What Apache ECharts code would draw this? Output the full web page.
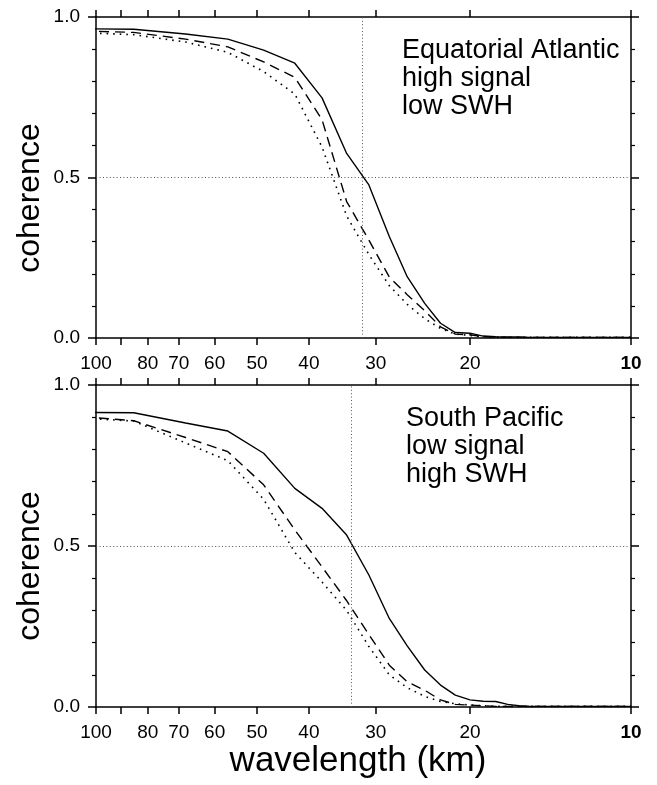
<!DOCTYPE html>
<html><head><meta charset="utf-8">
<script src="https://cdn.jsdelivr.net/npm/echarts@6/dist/echarts.min.js"></script>
<style>html,body{margin:0;padding:0;background:#fff}#c{width:657px;height:785px}</style>
</head><body><div id="c"></div>
<script>
// wavelength (km) of each spectral estimate
const wavelengths = [113.3, 85.0, 68.0, 56.7, 48.6, 42.5, 37.8, 34.0, 30.9, 28.3, 26.2, 24.3, 22.7, 21.3, 20.0, 18.9,
  17.9, 17.0, 16.2, 15.5, 14.8, 14.2, 13.6, 13.1, 12.6, 12.1, 11.7, 11.3, 11.0, 10.6, 10.3, 10.0];
const tickWavelengths = [100, 90, 80, 70, 60, 50, 40, 30, 20, 10];
const labelWavelengths = [100, 80, 70, 60, 50, 40, 30, 20, 10];

// Equatorial Atlantic
const atlSolid  = [0.964, 0.962, 0.947, 0.931, 0.897, 0.856, 0.748, 0.575, 0.477, 0.316, 0.191, 0.108, 0.046, 0.017, 0.015, 0.006,
  0.004, 0.003, 0.003, 0.002, 0.002, 0.002, 0.002, 0.002, 0.002, 0.002, 0.002, 0.002, 0.002, 0.002, 0.002, 0.002];
const atlDashed = [0.958, 0.952, 0.931, 0.907, 0.860, 0.812, 0.680, 0.425, 0.305, 0.190, 0.135, 0.085, 0.035, 0.012, 0.010, 0.004,
  0.003, 0.002, 0.002, 0.002, 0.002, 0.002, 0.002, 0.002, 0.002, 0.002, 0.002, 0.002, 0.002, 0.002, 0.002, 0.002];
const atlDotted = [0.953, 0.945, 0.922, 0.890, 0.830, 0.760, 0.595, 0.380, 0.260, 0.163, 0.105, 0.060, 0.030, 0.012, 0.008, 0.004,
  0.003, 0.002, 0.002, 0.002, 0.002, 0.002, 0.002, 0.002, 0.002, 0.002, 0.002, 0.002, 0.002, 0.002, 0.002, 0.002];
// South Pacific
const pacSolid  = [0.915, 0.914, 0.882, 0.857, 0.788, 0.679, 0.617, 0.534, 0.410, 0.275, 0.190, 0.115, 0.068, 0.037, 0.022, 0.018,
  0.017, 0.008, 0.004, 0.002, 0.002, 0.002, 0.002, 0.002, 0.002, 0.002, 0.002, 0.002, 0.002, 0.002, 0.002, 0.002];
const pacDashed = [0.905, 0.889, 0.837, 0.793, 0.690, 0.550, 0.435, 0.330, 0.225, 0.130, 0.078, 0.052, 0.022, 0.008, 0.006, 0.004,
  0.002, 0.002, 0.002, 0.002, 0.002, 0.002, 0.002, 0.002, 0.002, 0.002, 0.002, 0.002, 0.002, 0.002, 0.002, 0.002];
const pacDotted = [0.900, 0.888, 0.820, 0.765, 0.645, 0.480, 0.388, 0.300, 0.188, 0.100, 0.060, 0.033, 0.017, 0.010, 0.006, 0.004,
  0.002, 0.002, 0.002, 0.002, 0.002, 0.002, 0.002, 0.002, 0.002, 0.002, 0.002, 0.002, 0.002, 0.002, 0.002, 0.002];

const crossWavelengths = [31.8, 33.3];
const crossCoherence = 0.5;
const panelLines = [["Equatorial Atlantic", "high signal", "low SWH"], ["South Pacific", "low signal", "high SWH"]];
const yTitle = "coherence";
const xTitle = "wavelength (km)";

const FONT = "'Liberation Sans', Arial, Helvetica, sans-serif";
const panels = [
  { top: 17, height: 321, series: [atlSolid, atlDashed, atlDotted], textX: 402 },
  { top: 385, height: 322, series: [pacSolid, pacDashed, pacDotted], textX: 406 }
];

const grid = [], xAxis = [], yAxis = [], series = [], graphic = [];
const tickStyle = { color: '#000', width: 1.5 };
panels.forEach((p, i) => {
  grid.push({ left: 96, top: p.top, width: 535, height: p.height });
  // data axis (log scale, reversed)
  xAxis.push({ type: 'log', logBase: 10, gridIndex: i, min: 10, max: 100, inverse: true, show: false });
  // drawn axes (same mapping expressed in log10 units)
  ['bottom', 'top'].forEach(pos => {
    xAxis.push({
      type: 'value', gridIndex: i, min: 1, max: 2, inverse: true, position: pos,
      axisLine: { show: true, onZero: false, lineStyle: { color: '#000', width: 1.5 } },
      axisTick: { show: true, inside: false, length: 7, customValues: tickWavelengths.map(Math.log10), lineStyle: tickStyle },
      axisLabel: {
        show: pos === 'bottom', customValues: labelWavelengths.map(Math.log10), margin: 16,
        fontFamily: FONT, fontSize: 19, color: '#000',
        formatter: v => { const w = Math.round(Math.pow(10, v)); return w === 10 ? '{b|10}' : String(w); },
        rich: { b: { fontFamily: FONT, fontSize: 19, fontWeight: 'bold', color: '#000' } }
      },
      splitLine: { show: false }
    });
  });
  ['left', 'right'].forEach(pos => {
    yAxis.push({
      type: 'value', gridIndex: i, min: 0, max: 1, interval: 0.5, position: pos,
      axisLine: { show: true, onZero: false, lineStyle: { color: '#000', width: 1.5 } },
      axisTick: { show: true, inside: false, length: 8, lineStyle: tickStyle },
      minorTick: { show: true, splitNumber: 5, length: 4, lineStyle: { color: '#000', width: 1.2 } },
      axisLabel: { show: pos === 'left', margin: 16, fontFamily: FONT, fontSize: 19, color: '#000', formatter: v => v.toFixed(1) },
      splitLine: { show: false }
    });
  });
  const styles = [
    { type: 'solid', width: 1.4 },
    { type: [10, 6], width: 1.4 },
    { type: [1.6, 5], width: 1.6 }
  ];
  p.series.forEach((arr, k) => {
    const s = {
      type: 'line', xAxisIndex: 3 * i, yAxisIndex: 2 * i, symbol: 'none', clip: true,
      data: wavelengths.map((w, j) => [w, arr[j]]),
      lineStyle: Object.assign({ color: '#000' }, styles[k]),
      z: 3
    };
    if (k === 0) {
      s.markLine = {
        silent: true, symbol: 'none', label: { show: false }, animation: false,
        lineStyle: { color: '#555', type: [1, 2.4], width: 1 },
        data: [{ xAxis: crossWavelengths[i] }, { yAxis: crossCoherence }]
      };
    }
    series.push(s);
  });
  panelLines[i].forEach((t, j) => {
    graphic.push({ type: 'text', x: p.textX, y: p.top + 34 + 28 * j,
      style: { text: t, font: '27px ' + FONT, fill: '#000', textAlign: 'left', textVerticalAlign: 'middle' } });
  });
  graphic.push({ type: 'text', x: 30, y: p.top + 181, rotation: Math.PI / 2,
    style: { text: yTitle, font: '32px ' + FONT, fill: '#000', textAlign: 'center', textVerticalAlign: 'middle' } });
});
graphic.push({ type: 'text', x: 358, y: 761,
  style: { text: xTitle, font: '35px ' + FONT, fill: '#000', textAlign: 'center', textVerticalAlign: 'middle' } });

const chart = echarts.init(document.getElementById('c'), null, { renderer: 'canvas' });
chart.setOption({ animation: false, backgroundColor: '#fff', grid, xAxis, yAxis, series, graphic });
</script></body></html>
